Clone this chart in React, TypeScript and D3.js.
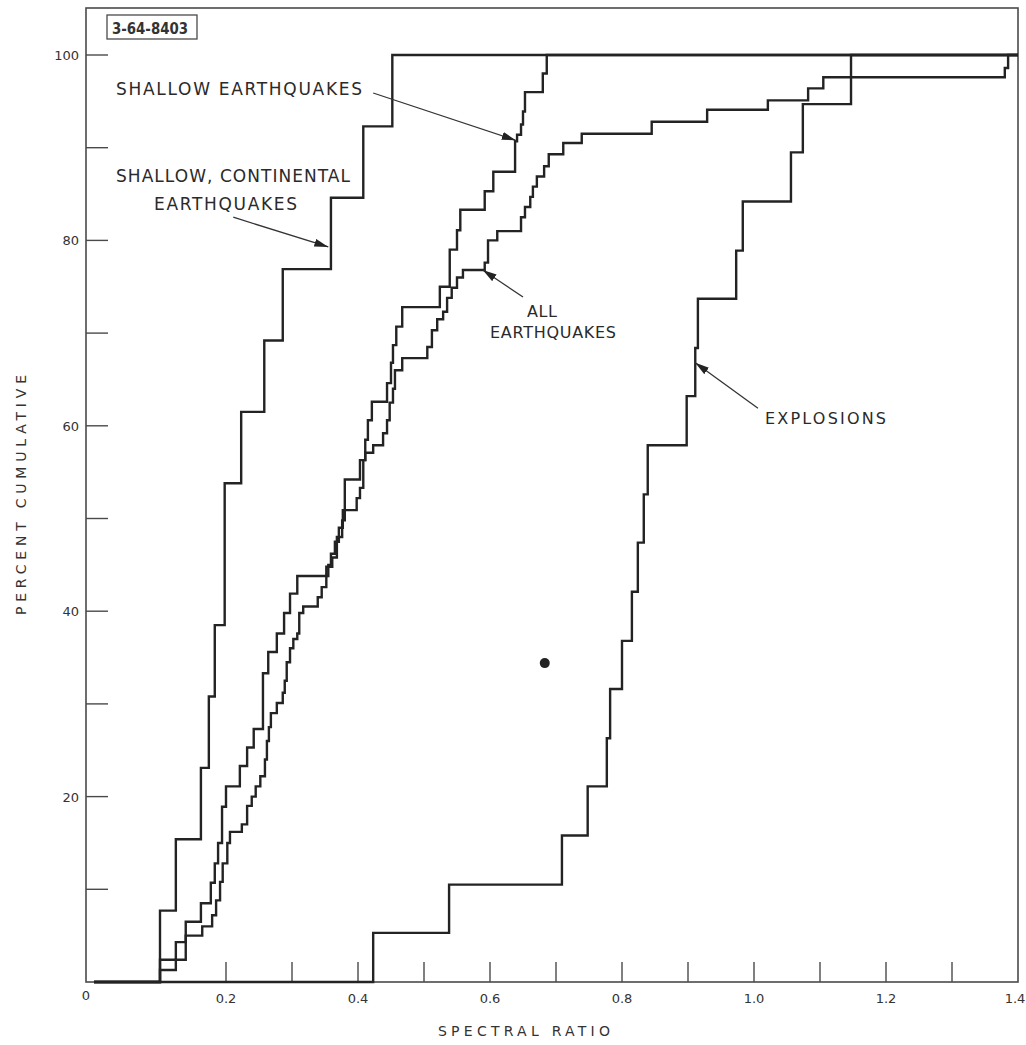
import * as d3 from "d3";

// step positions (spectral ratio) and cumulative percent after each step
const continentalX = [0.1, 0.124, 0.162, 0.174, 0.183, 0.198, 0.223, 0.258, 0.286, 0.359, 0.408, 0.452];
const continentalY = [7.7, 15.4, 23.1, 30.8, 38.5, 53.8, 61.5, 69.2, 76.9, 84.6, 92.3, 100];

const shallowX = [
  0.1, 0.124, 0.139, 0.162, 0.177, 0.183, 0.188, 0.194, 0.2, 0.221, 0.232, 0.242,
  0.256, 0.264, 0.277, 0.288, 0.297, 0.308, 0.352, 0.361, 0.368, 0.376, 0.38, 0.403,
  0.411, 0.415, 0.421, 0.444, 0.45, 0.453, 0.458, 0.467, 0.524, 0.539, 0.55, 0.555,
  0.592, 0.605, 0.638, 0.641, 0.647, 0.65, 0.653, 0.68, 0.686,
];
const shallowY = [
  2.4, 4.3, 6.5, 8.5, 10.7, 12.8, 15.0, 18.9, 21.1, 23.3, 25.3, 27.3,
  33.3, 35.6, 37.6, 39.8, 41.9, 43.8, 44.8, 45.8, 48.0, 49.8, 54.2, 56.3,
  58.5, 60.6, 62.6, 64.6, 66.8, 68.7, 70.7, 72.8, 75.0, 79.0, 81.1, 83.3,
  85.3, 87.4, 90.7, 91.4, 92.5, 93.9, 96.0, 98.0, 100,
];

const allX = [
  0.1, 0.124, 0.139, 0.164, 0.179, 0.185, 0.191, 0.195, 0.202, 0.206, 0.224, 0.232,
  0.239, 0.245, 0.252, 0.259, 0.262, 0.265, 0.268, 0.277, 0.286, 0.289, 0.292, 0.297,
  0.302, 0.308, 0.311, 0.317, 0.339, 0.345, 0.352, 0.355, 0.359, 0.365, 0.371, 0.377,
  0.398, 0.403, 0.408, 0.411, 0.423, 0.438, 0.444, 0.448, 0.453, 0.456, 0.467, 0.505,
  0.512, 0.52, 0.529, 0.535, 0.542, 0.55, 0.559, 0.592, 0.597, 0.611, 0.647, 0.653,
  0.661, 0.665, 0.671, 0.682, 0.689, 0.711, 0.739, 0.845, 0.929, 1.021, 1.082, 1.105,
  1.38, 1.385,
];
const allY = [
  1.3, 2.4, 5.0, 6.0, 7.2, 8.8, 10.8, 12.8, 15.0, 16.2, 17.0, 19.0,
  20.0, 21.1, 22.2, 24.0, 26.0, 27.5, 29.0, 30.1, 31.2, 32.5, 34.5, 36.0,
  37.0, 37.6, 39.8, 40.5, 41.5, 42.6, 43.8, 45.0, 46.2, 47.5, 49.0, 50.9,
  52.2, 53.3, 56.3, 57.1, 57.9, 59.2, 60.6, 62.5, 64.0, 66.0, 67.3, 68.5,
  70.3, 71.5, 72.3, 73.8, 74.9, 76.0, 76.8, 77.6, 80.0, 81.0, 82.5, 83.6,
  84.7, 85.8, 86.9, 88.0, 89.3, 90.5, 91.5, 92.8, 94.1, 95.1, 96.4, 97.6,
  98.6, 100,
];

const explosionX = [
  0.423, 0.538, 0.709, 0.748, 0.777, 0.782, 0.8, 0.815, 0.824, 0.833,
  0.839, 0.898, 0.911, 0.915, 0.973, 0.983, 1.056, 1.074, 1.147,
];
const explosionY = [
  5.3, 10.5, 15.8, 21.1, 26.3, 31.6, 36.8, 42.1, 47.4, 52.6,
  57.9, 63.2, 68.4, 73.7, 78.9, 84.2, 89.5, 94.7, 100,
];

// lone point in the plot
const strayPoint: [number, number] = [0.683, 34.4];

const yTicks = [10, 20, 30, 40, 50, 60, 70, 80, 90, 100];
const yTickLabels = [20, 40, 60, 80, 100];
const xTicks = [0.1, 0.2, 0.3, 0.4, 0.5, 0.6, 0.7, 0.8, 0.9, 1.0, 1.1, 1.2, 1.3];
const xTickLabels = ["0.2", "0.4", "0.6", "0.8", "1.0", "1.2", "1.4"];

// arrows: [tailX, tailY, tipX, tipY] in data units
const arrows: [number, number, number, number][] = [
  [0.423, 95.9, 0.639, 90.8],
  [0.211, 82.5, 0.355, 79.3],
  [0.65, 73.9, 0.589, 76.8],
  [1.006, 61.9, 0.911, 66.8],
];

const ink = "#232323";
const font = "'DejaVu Sans', sans-serif";

export default function App() {
  document.body.style.margin = "0";

  const width = 1026;
  const height = 1045;
  const frameLeft = 86;
  const frameRight = 1018;
  const frameTop = 8;
  const frameBottom = 982;

  const x = d3.scaleLinear().domain([0, 1.4]).range([94, 1018]);
  const y = d3.scaleLinear().domain([0, 100]).range([982, 55]);

  const line = d3
    .line<[number, number]>()
    .x((d) => x(d[0]))
    .y((d) => y(d[1]))
    .curve(d3.curveStepAfter);

  const toPoints = (xs: number[], ys: number[]): [number, number][] => [
    [0, 0],
    ...xs.map((v, i) => [v, ys[i]] as [number, number]),
    [1.4, 100],
  ];

  const series = [
    toPoints(continentalX, continentalY),
    toPoints(shallowX, shallowY),
    toPoints(allX, allY),
    toPoints(explosionX, explosionY),
  ];

  return (
    <svg width={width} height={height} style={{ display: "block", background: "#fff" }}>
      <defs>
        <marker
          id="head"
          viewBox="0 0 14 8"
          refX="14"
          refY="4"
          markerWidth="14"
          markerHeight="8"
          markerUnits="userSpaceOnUse"
          orient="auto"
        >
          <path d="M0,0 L14,4 L0,8 Z" fill={ink} />
        </marker>
      </defs>

      {/* frame */}
      <rect
        x={frameLeft}
        y={frameTop}
        width={frameRight - frameLeft}
        height={frameBottom - frameTop}
        fill="none"
        stroke="#4a4a4a"
        strokeWidth={1.6}
      />

      {/* y ticks */}
      {yTicks.map((t) => (
        <line key={t} x1={frameLeft} x2={frameLeft + 22} y1={y(t)} y2={y(t)} stroke="#4a4a4a" strokeWidth={1.4} />
      ))}
      {yTickLabels.map((t) => (
        <text
          key={t}
          x={79}
          y={y(t) + 5}
          textAnchor="end"
          fontFamily={font}
          fontSize={13}
          fill="#333"
        >
          {t}
        </text>
      ))}

      {/* x ticks */}
      {xTicks.map((t) => (
        <line key={t} x1={x(t)} x2={x(t)} y1={frameBottom} y2={frameBottom - 20} stroke="#4a4a4a" strokeWidth={1.4} />
      ))}
      {xTickLabels.map((t) => (
        <text
          key={t}
          x={x(+t) - (t === "1.4" ? 3 : 0)}
          y={1003}
          textAnchor="middle"
          fontFamily={font}
          fontSize={13}
          fill="#333"
        >
          {t}
        </text>
      ))}
      <text x={frameLeft} y={1000} textAnchor="middle" fontFamily={font} fontSize={13} fill="#333">
        0
      </text>

      {/* axis titles */}
      <text
        x={438}
        y={1036}
        textLength={172}
        lengthAdjust="spacing"
        fontFamily={font}
        fontSize={14}
        fill="#333"
      >
        SPECTRAL RATIO
      </text>
      <text
        transform="translate(26,615) rotate(-90)"
        x={0}
        y={0}
        textLength={240}
        lengthAdjust="spacing"
        fontFamily={font}
        fontSize={14}
        fill="#333"
      >
        PERCENT CUMULATIVE
      </text>

      {/* drawing number */}
      <rect x={107} y={15} width={90} height={24} fill="none" stroke="#4a4a4a" strokeWidth={1.3} />
      <text
        x={112}
        y={34}
        textLength={76}
        lengthAdjust="spacingAndGlyphs"
        fontFamily="'DejaVu Sans Condensed', 'DejaVu Sans', sans-serif"
        fontSize={16}
        fontWeight="bold"
        fill="#333"
      >
        3-64-8403
      </text>

      {/* step curves */}
      {series.map((pts, i) => (
        <path key={i} d={line(pts) ?? ""} fill="none" stroke={ink} strokeWidth={2.4} strokeLinejoin="miter" />
      ))}

      <circle cx={x(strayPoint[0])} cy={y(strayPoint[1])} r={5} fill={ink} />

      {/* annotations */}
      {arrows.map((a, i) => (
        <line
          key={i}
          x1={x(a[0])}
          y1={y(a[1])}
          x2={x(a[2])}
          y2={y(a[3])}
          stroke="#333"
          strokeWidth={1.3}
          markerEnd="url(#head)"
        />
      ))}

      <g fontFamily={font} fontSize={17} fill="#2a2a2a">
        <text x={116} y={95} textLength={246} lengthAdjust="spacing">
          SHALLOW EARTHQUAKES
        </text>
        <text x={116} y={182} textLength={234} lengthAdjust="spacing">
          SHALLOW, CONTINENTAL
        </text>
        <text x={154} y={210} textLength={143} lengthAdjust="spacing">
          EARTHQUAKES
        </text>
        <text x={527} y={317} textLength={30} lengthAdjust="spacing" fontSize={16}>
          ALL
        </text>
        <text x={490} y={338} textLength={126} lengthAdjust="spacing" fontSize={16}>
          EARTHQUAKES
        </text>
        <text x={765} y={424} textLength={121} lengthAdjust="spacing" fontSize={16}>
          EXPLOSIONS
        </text>
      </g>
    </svg>
  );
}
